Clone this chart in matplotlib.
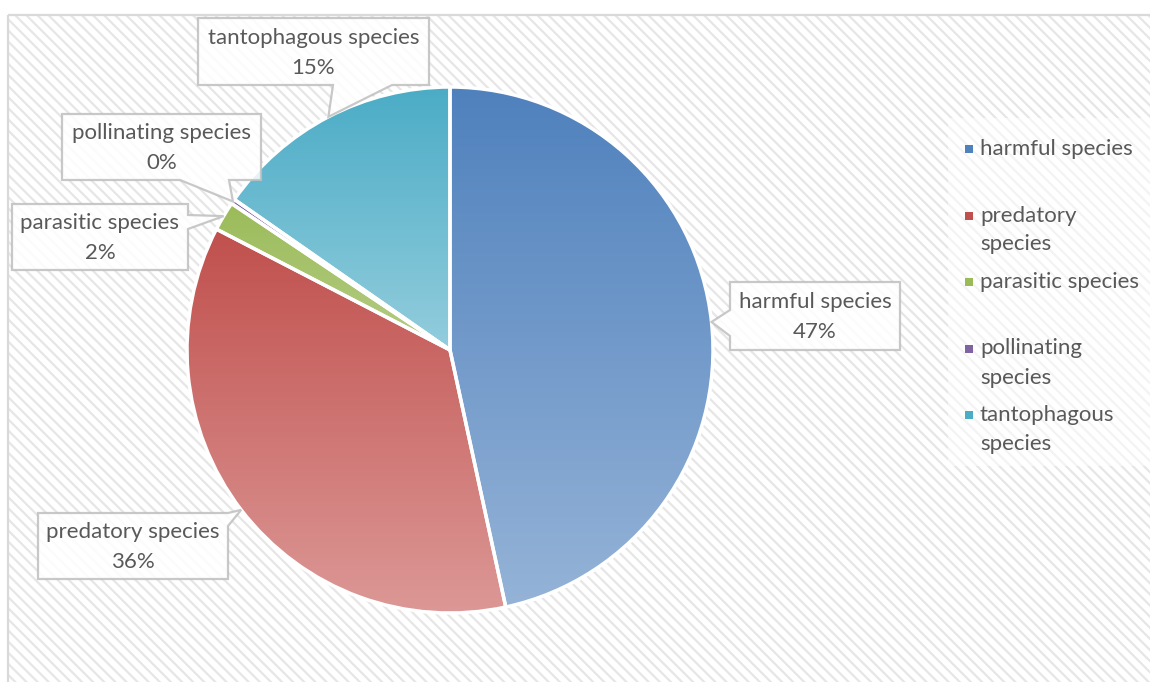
import numpy as np
import matplotlib
matplotlib.use("Agg")
import matplotlib.pyplot as plt
from matplotlib.patches import Rectangle, Polygon
from matplotlib.colors import to_rgb

# data
categories = ["harmful species", "predatory species", "parasitic species",
              "pollinating species", "tantophagous species"]
shares = [46.6, 36.0, 1.8, 0.3, 15.3]
legend_labels = ["harmful species", "predatory\nspecies", "parasitic species",
                 "pollinating\nspecies", "tantophagous\nspecies"]

# gradient colours (top, bottom) per slice
grad_top = ["#4f81bd", "#c0504d", "#9bbb59", "#8064a2", "#4bacc6"]
grad_bot = ["#95b3d7", "#dc9896", "#b5cd85", "#a28bbd", "#93cddd"]
legend_colors = ["#4f81bd", "#c0504d", "#9bbb59", "#8064a2", "#4bacc6"]

TEXT = "#595959"
FONT = "Lato"
FS = 16

# callout boxes in pixel coords (x0, y0, x1, y1, side, a, b)
callouts = {
    "harmful species": (730, 282, 900, 350, "left", 310, 336),
    "predatory species": (38, 513, 228, 579, "right", 513, 526),
    "parasitic species": (12, 204, 188, 270, "right", 215, 229),
    "pollinating species": (62, 114, 261, 180, "bottom", 180, 229),
    "tantophagous species": (198, 18, 429, 85, "bottom", 333, 392),
}


def callout_poly(box, tip):
    x0, y0, x1, y1, side, a, b = box
    if side == "bottom":
        pts = [(x0, y0), (x1, y0), (x1, y1), (b, y1), tip, (a, y1), (x0, y1)]
    elif side == "left":
        pts = [(x0, y0), (x1, y0), (x1, y1), (x0, y1), (x0, b), tip, (x0, a)]
    else:  # right
        pts = [(x0, y0), (x1, y0), (x1, a), tip, (x1, b), (x1, y1), (x0, y1)]
    return pts


def main():
    W, H = 1150, 682
    plt.rcParams["hatch.color"] = "#e6e6e6"
    plt.rcParams["hatch.linewidth"] = 1.6
    fig = plt.figure(figsize=(W / 100, H / 100), dpi=100)
    fig.patch.set_facecolor("white")
    ax = fig.add_axes([0, 0, 1, 1])

    # hatched chart area + frame
    ax.add_patch(Rectangle((8, 15), W, H, facecolor="white", edgecolor="#e6e6e6",
                           linewidth=0, hatch="\\\\\\", zorder=0))
    ax.add_patch(Rectangle((8, 15), W, H, facecolor="none", edgecolor="#d9d9d9",
                           linewidth=1.6, zorder=0.5))

    cx, cy, r = 450, 350, 263
    wedges, _ = ax.pie(shares, center=(cx, cy), radius=r, startangle=-90,
                       counterclock=True, frame=True,
                       wedgeprops=dict(facecolor="none", edgecolor="white", linewidth=2.5))
    for w in wedges:
        w.set_zorder(3)

    # vertical gradient fill for each slice
    for w, c0, c1 in zip(wedges, grad_top, grad_bot):
        ext = w.get_path().get_extents()
        t = np.linspace(0, 1, 256)[:, None]
        grad = (1 - t) * np.array(to_rgb(c0)) + t * np.array(to_rgb(c1))
        im = ax.imshow(grad[:, None, :], extent=(ext.x0, ext.x1, ext.y1, ext.y0),
                       origin="upper", aspect="auto", interpolation="bilinear", zorder=2)
        im.set_clip_path(w)

    # callouts
    total = sum(shares)
    for w, name, val in zip(wedges, categories, shares):
        mid = np.deg2rad((w.theta1 + w.theta2) / 2)
        tip = (cx + r * np.cos(mid), cy + r * np.sin(mid))
        box = callouts[name]
        ax.add_patch(Polygon(callout_poly(box, tip), closed=True, facecolor="white",
                             alpha=0.85, edgecolor="#bfbfbf", linewidth=1.6, zorder=4,
                             joinstyle="miter"))
        bx = (box[0] + box[2]) / 2
        by = (box[1] + box[3]) / 2
        ax.text(bx, by - 14, name, ha="center", va="center", fontsize=FS,
                color=TEXT, family=FONT, zorder=5)
        ax.text(bx, by + 16, f"{round(val / total * 100)}%", ha="center", va="center",
                fontsize=FS, color=TEXT, family=FONT, zorder=5)

    # legend
    ax.add_patch(Rectangle((948, 118), 210, 348, facecolor="white", alpha=0.55,
                           edgecolor="none", zorder=1))
    for i, (lab, col) in enumerate(zip(legend_labels, legend_colors)):
        y = 149 + i * 66.5
        ax.add_patch(Rectangle((965, y - 4), 8, 8, facecolor=col, edgecolor="none", zorder=5))
        for j, line in enumerate(lab.split("\n")):
            ax.text(980, y + j * 29, line, ha="left", va="center", fontsize=FS,
                    color=TEXT, family=FONT, zorder=5)

    ax.set_xlim(0, W)
    ax.set_ylim(H, 0)
    ax.axis("off")
    fig.savefig("out.png", dpi=100, facecolor="white")
    plt.close(fig)


if __name__ == "__main__":
    main()
